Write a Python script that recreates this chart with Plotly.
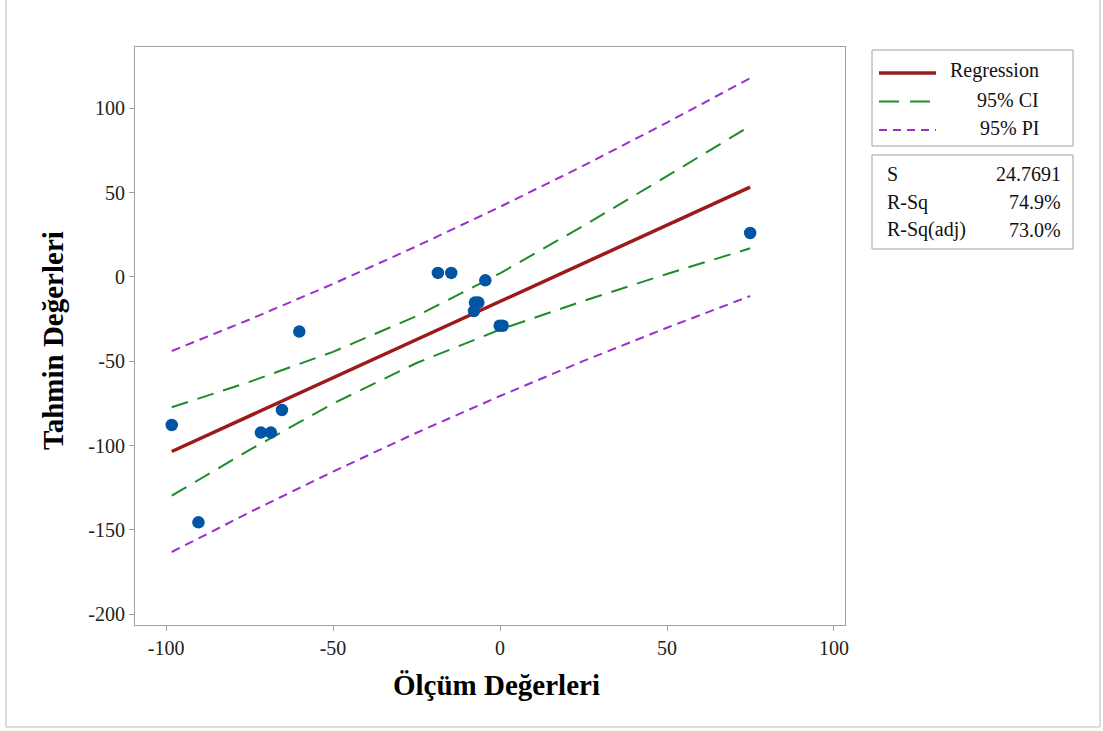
import plotly.graph_objects as go

# ---- data ----
meas_x = [-98.3, -90.3, -71.6, -68.6, -65.3, -60.1, -18.6, -14.6, -4.4, -7.5, -6.5, -7.8, -0.1, 0.8, 74.9]
pred_y = [-87.8, -145.5, -92.3, -92.3, -78.9, -32.4, 2.4, 2.4, -2.0, -15.2, -15.2, -20.2, -28.9, -28.9, 26.1]

line_x = [-98.3, -75, -50, -25, 0, 25, 50, 74.9]
fit_y = [-103.5, -82.4, -59.8, -37.1, -14.5, 8.1, 30.8, 53.3]
ci_hi = [-77.3, -62.2, -44.4, -23.2, 2.2, 30.4, 59.8, 89.6]
ci_lo = [-129.7, -102.6, -75.1, -51.0, -31.2, -14.2, 1.8, 17.0]
pi_hi = [-43.9, -25.2, -4.1, 18.2, 41.6, 66.0, 91.6, 117.9]
pi_lo = [-163.1, -139.6, -115.4, -92.4, -70.6, -49.8, -30.1, -11.3]

x_ticks = [-100, -50, 0, 50, 100]
x_tick_text = ["-100", "-50", "0", "50", "100"]
y_ticks = [100, 50, 0, -50, -100, -150, -200]
y_tick_text = ["100", "50", "0", "-50", "-100", "-150", "-200"]

legend_labels = ["Regression", "95% CI", "95% PI"]
stat_names = ["S", "R-Sq", "R-Sq(adj)"]
stat_values = ["24.7691", "74.9%", "73.0%"]

x_title = "Ölçüm Değerleri"
y_title = "Tahmin Değerleri"

# ---- styles ----
RED = "#9B1B1B"
GREEN = "#1E8B2A"
PURPLE = "#9B2FCC"
BLUE = "#0055A5"
FONT = "Liberation Serif"
W, H = 1103, 731
L, R, T, B = 135, 845, 47, 625


def px(xp):
    return (xp - L) / (R - L)


def py(yp):
    return (B - yp) / (B - T)


fig = go.Figure()
fig.add_trace(go.Scatter(x=line_x, y=pi_hi, mode="lines",
                         line=dict(color=PURPLE, width=2, dash="9px,6px"), hoverinfo="skip"))
fig.add_trace(go.Scatter(x=line_x, y=pi_lo, mode="lines",
                         line=dict(color=PURPLE, width=2, dash="9px,6px"), hoverinfo="skip"))
fig.add_trace(go.Scatter(x=line_x, y=ci_hi, mode="lines",
                         line=dict(color=GREEN, width=2, dash="17px,10px"), hoverinfo="skip"))
fig.add_trace(go.Scatter(x=line_x, y=ci_lo, mode="lines",
                         line=dict(color=GREEN, width=2, dash="17px,10px"), hoverinfo="skip"))
fig.add_trace(go.Scatter(x=line_x, y=fit_y, mode="lines",
                         line=dict(color=RED, width=3.5), hoverinfo="skip"))
fig.add_trace(go.Scatter(x=meas_x, y=pred_y, mode="markers",
                         marker=dict(color=BLUE, size=12.5, line=dict(width=0))))

axis_common = dict(showline=True, mirror=True, linecolor="#A0A0A0", linewidth=1,
                   ticks="outside", ticklen=5, tickcolor="#A0A0A0", showgrid=False,
                   zeroline=False, tickfont=dict(family=FONT, size=20, color="#222"))

fig.update_layout(
    width=W, height=H,
    margin=dict(l=L, r=W - R, t=T, b=H - B),
    paper_bgcolor="white", plot_bgcolor="white",
    showlegend=False,
    xaxis=dict(range=[-109.3, 103.3], tickvals=x_ticks, ticktext=x_tick_text, **axis_common),
    yaxis=dict(range=[-206.4, 136.4], tickvals=y_ticks, ticktext=y_tick_text, **axis_common),
)

shapes = []
# page border
border = dict(color="#CFCFCF", width=1.5)
shapes.append(dict(type="line", xref="paper", yref="paper", x0=px(6), x1=px(6), y0=py(0), y1=py(727), line=border))
shapes.append(dict(type="line", xref="paper", yref="paper", x0=px(6), x1=px(1100), y0=py(727), y1=py(727), line=border))
shapes.append(dict(type="line", xref="paper", yref="paper", x0=px(1100), x1=px(1100), y0=py(0), y1=py(727), line=border))
# legend box and stats box
box = dict(color="#A0A0A0", width=1)
shapes.append(dict(type="rect", xref="paper", yref="paper", x0=px(872), x1=px(1073), y0=py(146), y1=py(50), line=box))
shapes.append(dict(type="rect", xref="paper", yref="paper", x0=px(872), x1=px(1073), y0=py(249), y1=py(155), line=box))
# legend samples
shapes.append(dict(type="line", xref="paper", yref="paper", x0=px(879), x1=px(936), y0=py(73), y1=py(73),
                   line=dict(color=RED, width=3.5)))
shapes.append(dict(type="line", xref="paper", yref="paper", x0=px(879), x1=px(930), y0=py(101.5), y1=py(101.5),
                   line=dict(color=GREEN, width=2, dash="20px,11px")))
shapes.append(dict(type="line", xref="paper", yref="paper", x0=px(879), x1=px(936), y0=py(130), y1=py(130),
                   line=dict(color=PURPLE, width=2, dash="8px,6px")))
fig.update_layout(shapes=shapes)

ann = []
for lab, yp in zip(legend_labels, [71, 100, 128]):
    ann.append(dict(text=lab, xref="paper", yref="paper", x=px(1041), y=py(yp), xanchor="right", yanchor="middle",
                    showarrow=False, font=dict(family=FONT, size=20, color="#111")))
for name, val, yp in zip(stat_names, stat_values, [174, 202, 230]):
    ann.append(dict(text=name, xref="paper", yref="paper", x=px(885), y=py(yp), xanchor="left", yanchor="middle",
                    showarrow=False, font=dict(family=FONT, size=20, color="#111")))
    ann.append(dict(text=val, xref="paper", yref="paper", x=px(1063), y=py(yp), xanchor="right", yanchor="middle",
                    showarrow=False, font=dict(family=FONT, size=20, color="#111")))
ann.append(dict(text="<b>%s</b>" % x_title, xref="paper", yref="paper", x=px(496), y=py(685),
                xanchor="center", yanchor="middle", showarrow=False,
                font=dict(family=FONT, size=29, color="#000")))
ann.append(dict(text="<b>%s</b>" % y_title, xref="paper", yref="paper", x=px(53), y=py(341),
                xanchor="center", yanchor="middle", showarrow=False, textangle=-90,
                font=dict(family=FONT, size=29, color="#000")))
fig.update_layout(annotations=ann)

fig.write_html("out.html")
